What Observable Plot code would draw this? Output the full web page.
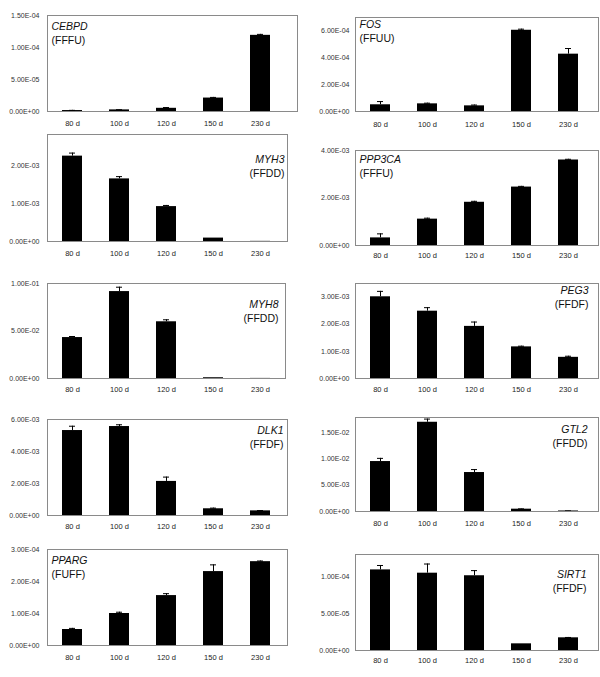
<!DOCTYPE html>
<html><head><meta charset="utf-8">
<script src="https://cdn.jsdelivr.net/npm/d3@7"></script>
<script src="https://cdn.jsdelivr.net/npm/@observablehq/plot@0.6"></script>
<style>
body{margin:0;background:#fff;}
#wrap{position:relative;width:600px;height:677px;overflow:hidden;background:#fff;font-family:"Liberation Sans",Arial,sans-serif;}
#wrap svg{position:absolute;overflow:visible;}
</style></head><body><div id="wrap"></div>
<script>
// ---- data ----
const ages = ["80 d", "100 d", "120 d", "150 d", "230 d"];
const genes = ["CEBPD", "FOS", "MYH3", "PPP3CA", "MYH8", "PEG3", "DLK1", "GTL2", "PPARG", "SIRT1"];
const patterns = ["(FFFU)", "(FFUU)", "(FFDD)", "(FFFU)", "(FFDD)", "(FFDF)", "(FFDF)", "(FFDD)", "(FUFF)", "(FFDF)"];

const cebpd = [1.5e-6, 2.5e-6, 5e-6, 2.1e-5, 1.19e-4];
const cebpdErr = [0.3e-6, 0.3e-6, 1.2e-6, 1.0e-6, 1.5e-6];
const fos = [5.0e-5, 5.7e-5, 4.2e-5, 6.05e-4, 4.27e-4];
const fosErr = [2.4e-5, 5e-6, 6e-6, 8e-6, 4.2e-5];
const myh3 = [2.25e-3, 1.65e-3, 0.92e-3, 9e-5, 4e-6];
const myh3Err = [8e-5, 6e-5, 3e-5, 0, 0];
const ppp3ca = [3.2e-4, 1.11e-3, 1.82e-3, 2.46e-3, 3.60e-3];
const ppp3caErr = [1.7e-4, 4e-5, 4e-5, 3e-5, 3e-5];
const myh8 = [0.0431, 0.0915, 0.0597, 0.0008, 0.0001];
const myh8Err = [0.0011, 0.0046, 0.0021, 0, 0];
const peg3 = [3.01e-3, 2.48e-3, 1.92e-3, 1.165e-3, 0.78e-3];
const peg3Err = [2.0e-4, 1.3e-4, 1.6e-4, 2.5e-5, 4e-5];
const dlk1 = [5.31e-3, 5.56e-3, 2.13e-3, 0.42e-3, 0.29e-3];
const dlk1Err = [2.7e-4, 1.1e-4, 2.7e-4, 4e-5, 2e-5];
const gtl2 = [9.46e-3, 1.69e-2, 7.38e-3, 4.4e-4, 1e-4];
const gtl2Err = [6e-4, 6e-4, 5.6e-4, 6e-5, 2e-5];
const pparg = [5.0e-5, 1.0e-4, 1.56e-4, 2.31e-4, 2.62e-4];
const ppargErr = [3.5e-6, 4e-6, 6e-6, 2.1e-5, 2e-6];
const sirt1 = [1.10e-4, 1.055e-4, 1.02e-4, 9.1e-6, 1.73e-5];
const sirt1Err = [6e-6, 1.25e-5, 7e-6, 0, 5e-7];

const seriesValues = [cebpd, fos, myh3, ppp3ca, myh8, peg3, dlk1, gtl2, pparg, sirt1];
const seriesErrors = [cebpdErr, fosErr, myh3Err, ppp3caErr, myh8Err, peg3Err, dlk1Err, gtl2Err, ppargErr, sirt1Err];

// axis domains and tick values (y)
const yMaxes = [1.5e-4, 7e-4, 2.82e-3, 4e-3, 0.1, 3.5e-3, 6e-3, 1.78e-2, 3e-4, 1.31e-4];
const yTickLists = [
  [0, 5e-5, 1e-4, 1.5e-4],
  [0, 2e-4, 4e-4, 6e-4],
  [0, 1e-3, 2e-3],
  [0, 2e-3, 4e-3],
  [0, 0.05, 0.1],
  [0, 1e-3, 2e-3, 3e-3],
  [0, 2e-3, 4e-3, 6e-3],
  [0, 5e-3, 1e-2, 1.5e-2],
  [0, 1e-4, 2e-4, 3e-4],
  [0, 5e-5, 1e-4]
];

// ---- layout (page pixels) ----
// frame: [left, right, top, bottom]
const frames = [
  [47, 297, 15, 111], [355, 598, 17, 111],
  [47, 287, 134, 241], [355, 598, 150, 245],
  [47, 285, 283, 378], [355, 598, 283, 378],
  [47, 287, 419, 515], [355, 598, 417, 511],
  [47, 287, 549, 645], [355, 598, 554, 650]
];
// label: [anchor, x, baseline of first line]
const labelPos = [
  ["start", 51, 29], ["start", 359, 27],
  ["end", 284, 162], ["start", 359, 162],
  ["end", 278, 307], ["end", 588, 293],
  ["end", 283, 433], ["end", 587, 432],
  ["start", 51, 563], ["end", 586, 577]
];
const xLabelOffsets = [12.3, 13, 12, 9.5, 10.5, 10.5, 11, 12.3, 12.3, 9.5];

function fmt(v) {
  if (v === 0) return "0.00E+00";
  const [m, e] = v.toExponential(2).split("e");
  const n = Math.abs(+e);
  return m + "E" + (+e < 0 ? "-" : "+") + (n < 10 ? "0" + n : "" + n);
}

const wrap = document.getElementById("wrap");
const mt = 14, mb = 24;

genes.forEach((g, i) => {
  const col = i % 2;
  const colX = col * 300;
  const [fl, fr, ft, fb] = frames[i];
  const data = ages.map((a, j) => ({age: a, value: seriesValues[i][j], err: seriesErrors[i][j]}));
  const errData = data.filter(d => d.err > 0);
  const bandLeft = col === 0 ? 47 : 355.25;
  const step = 47.5;
  const barW = 20;
  const capW = 6;
  const [anchor, lx, ly] = labelPos[i];
  const dxLabel = anchor === "start" ? lx - fl : lx - fr;
  const chart = Plot.plot({
    width: 300,
    height: (fb - ft) + mt + mb,
    marginLeft: fl - colX,
    marginRight: colX + 300 - fr,
    marginTop: mt,
    marginBottom: mb,
    style: {fontFamily: '"Liberation Sans", Arial, sans-serif', background: "transparent", color: "#222"},
    x: {type: "band", domain: ages, range: [bandLeft - colX, bandLeft - colX + 5 * step],
        paddingInner: 1 - barW / step, paddingOuter: (1 - barW / step) / 2, label: null},
    y: {domain: [0, yMaxes[i]], label: null},
    marks: [
      Plot.barY(data, {x: "age", y: "value", fill: "black"}),
      Plot.ruleX(errData, {x: "age", y1: "value", y2: d => d.value + d.err, stroke: "black", strokeWidth: 1}),
      Plot.tickY(errData, {x: "age", y: d => d.value + d.err, stroke: "black", strokeWidth: 1,
        insetLeft: (barW - capW) / 2, insetRight: (barW - capW) / 2}),
      Plot.axisY({ticks: yTickLists[i], tickFormat: fmt, tickSize: 0, tickPadding: col === 0 ? 8 : 6,
        fontSize: 7, color: "#333", label: null}),
      Plot.axisX({tickSize: 0, tickPadding: xLabelOffsets[i] - 2.7, fontSize: 7.5, color: "#222", label: null}),
      Plot.frame({stroke: "#8a8a8a", strokeWidth: 1}),
      Plot.text([g], {text: d => d, frameAnchor: anchor === "start" ? "top-left" : "top-right",
        textAnchor: anchor, lineAnchor: "bottom", dx: dxLabel, dy: ly - ft,
        fontStyle: "italic", fontSize: 10.5, fill: "#111"}),
      Plot.text([patterns[i]], {text: d => d, frameAnchor: anchor === "start" ? "top-left" : "top-right",
        textAnchor: anchor, lineAnchor: "bottom", dx: dxLabel, dy: ly - ft + 14,
        fontSize: 10.5, fill: "#111"})
    ]
  });
  chart.style.left = colX + "px";
  chart.style.top = (ft - mt) + "px";
  wrap.appendChild(chart);
});
</script>
</body></html>
